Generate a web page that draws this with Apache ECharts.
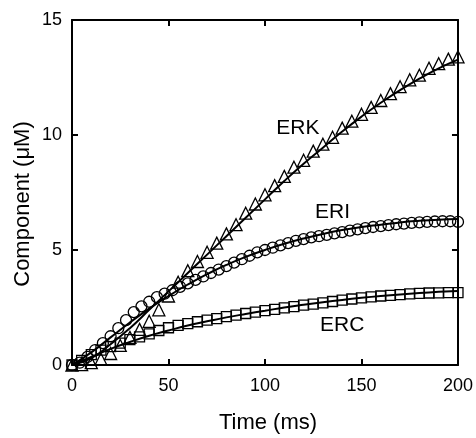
<!DOCTYPE html>
<html>
<head>
<meta charset="utf-8">
<script src="https://cdn.jsdelivr.net/npm/echarts@6/dist/echarts.min.js"></script>
<style>html,body{margin:0;padding:0;background:#fff;}#c{width:476px;height:438px;}</style>
</head>
<body>
<div id="c"></div>
<script>
// Marker data (measured)
const erkT = [0,5,10,15,20,25,30,35,40,45,50,55,60,65,70,75,80,85,90,95,100,105,110,115,120,125,130,135,140,145,150,155,160,165,170,175,180,185,190,195,200];
const erkV = [0,0.02,0.1,0.25,0.5,0.85,1.2,1.55,1.9,2.4,3.0,3.6,4.1,4.5,4.9,5.3,5.7,6.1,6.6,7.0,7.4,7.8,8.2,8.6,8.9,9.3,9.6,9.9,10.3,10.6,10.9,11.2,11.5,11.8,12.1,12.4,12.6,12.9,13.1,13.3,13.4];
const eriT = [0,4,8,12,16,20,24,28,32,36,40,44,48,52,56,60,64,68,72,76,80,84,88,92,96,100,104,108,112,116,120,124,128,132,136,140,144,148,152,156,160,164,168,172,176,180,184,188,192,196,200];
const eriV = [0,0.1,0.35,0.65,0.95,1.25,1.6,1.95,2.3,2.55,2.75,2.95,3.1,3.25,3.4,3.55,3.7,3.85,4.0,4.15,4.3,4.45,4.6,4.75,4.9,5.0,5.1,5.2,5.3,5.4,5.47,5.55,5.6,5.66,5.72,5.78,5.84,5.9,5.95,6.0,6.04,6.08,6.12,6.15,6.18,6.2,6.22,6.24,6.25,6.25,6.22];
const ercT = erkT;
const ercV = [0,0.2,0.45,0.65,0.8,0.95,1.1,1.22,1.35,1.5,1.62,1.72,1.8,1.88,1.95,2.02,2.1,2.17,2.24,2.3,2.36,2.42,2.48,2.54,2.6,2.65,2.7,2.76,2.82,2.87,2.92,2.96,3.0,3.03,3.06,3.09,3.11,3.13,3.14,3.15,3.15];
// Fit curves
const fitT = [0,10,20,30,40,50,60,70,80,90,100,110,120,130,140,150,160,170,180,190,200];
const erkFit = [0,0.3,0.9,1.6,2.4,3.2,4.0,4.8,5.6,6.4,7.2,8.0,8.75,9.45,10.15,10.8,11.4,11.95,12.45,12.9,13.28];
const eriFit = [0,0.55,1.2,1.85,2.45,3.0,3.5,3.95,4.35,4.7,5.0,5.27,5.5,5.7,5.87,6.0,6.1,6.2,6.27,6.32,6.35];
const ercFit = [0,0.35,0.7,1.0,1.27,1.5,1.72,1.9,2.07,2.22,2.36,2.5,2.62,2.73,2.83,2.92,3.0,3.07,3.13,3.18,3.22];
const xTicks = [0,50,100,150,200];
const yTicks = [0,5,10,15];
const seriesLabels = [['ERK',117,10.3],['ERI',135,6.65],['ERC',140,1.75]];

const zip = (a,b)=>a.map((x,i)=>[x,b[i]]);
const F = 'Liberation Sans, Arial, sans-serif';
const chart = echarts.init(document.getElementById('c'), null, {renderer:'canvas'});
const axisLine = {show:true, onZero:false, lineStyle:{color:'#000', width:2}};
const tick = {show:true, inside:true, length:6, lineStyle:{color:'#000', width:2}};
const mk = (sym,size,data)=>({type:'scatter', data, symbol:sym, symbolSize:size, xAxisIndex:0, yAxisIndex:0,
  itemStyle:{color:'rgba(0,0,0,0)', borderColor:'#000', borderWidth:1.3, opacity:1}, z:2, silent:true});
const ln = (data)=>({type:'line', data, smooth:true, showSymbol:false, symbol:'none', xAxisIndex:0, yAxisIndex:0,
  lineStyle:{color:'#000', width:2}, z:3, silent:true});
chart.setOption({
  animation:false,
  grid:{left:72, right:17, top:20, bottom:73},
  xAxis:[
    {type:'value', min:0, max:200, interval:50, axisLine, axisTick:tick, splitLine:{show:false},
     axisLabel:{color:'#000', fontFamily:F, fontSize:18, margin:12, formatter:v=>xTicks.includes(v)?String(v):''}},
    {type:'value', position:'top', min:0, max:200, interval:50, axisLine, axisTick:tick, splitLine:{show:false}, axisLabel:{show:false}}
  ],
  yAxis:[
    {type:'value', min:0, max:15, interval:5, axisLine, axisTick:tick, splitLine:{show:false},
     axisLabel:{color:'#000', fontFamily:F, fontSize:18, margin:10, formatter:v=>yTicks.includes(v)?String(v):''}},
    {type:'value', position:'right', min:0, max:15, interval:5, axisLine, axisTick:tick, splitLine:{show:false}, axisLabel:{show:false}}
  ],
  series:[
    mk('triangle',12,zip(erkT,erkV)),
    mk('circle',11,zip(eriT,eriV)),
    mk('rect',10,zip(ercT,ercV)),
    ln(zip(fitT,erkFit)),
    ln(zip(fitT,eriFit)),
    ln(zip(fitT,ercFit))
  ]
});
const g = [
  {type:'text', style:{text:'Time (ms)', fill:'#000', font:'22px '+F, textAlign:'center', textVerticalAlign:'middle'}, x:268, y:423, silent:true},
  {type:'text', style:{text:'Component (μM)', fill:'#000', font:'22px '+F, textAlign:'center', textVerticalAlign:'middle'}, x:23, y:204, rotation:Math.PI/2, silent:true}
];
seriesLabels.forEach(l=>{
  const p = chart.convertToPixel({xAxisIndex:0, yAxisIndex:0}, [l[1], l[2]]);
  g.push({type:'text', style:{text:l[0], fill:'#000', font:'21px '+F, textAlign:'center', textVerticalAlign:'middle'}, x:p[0], y:p[1], silent:true});
});
chart.setOption({graphic:g});
</script>
</body>
</html>
